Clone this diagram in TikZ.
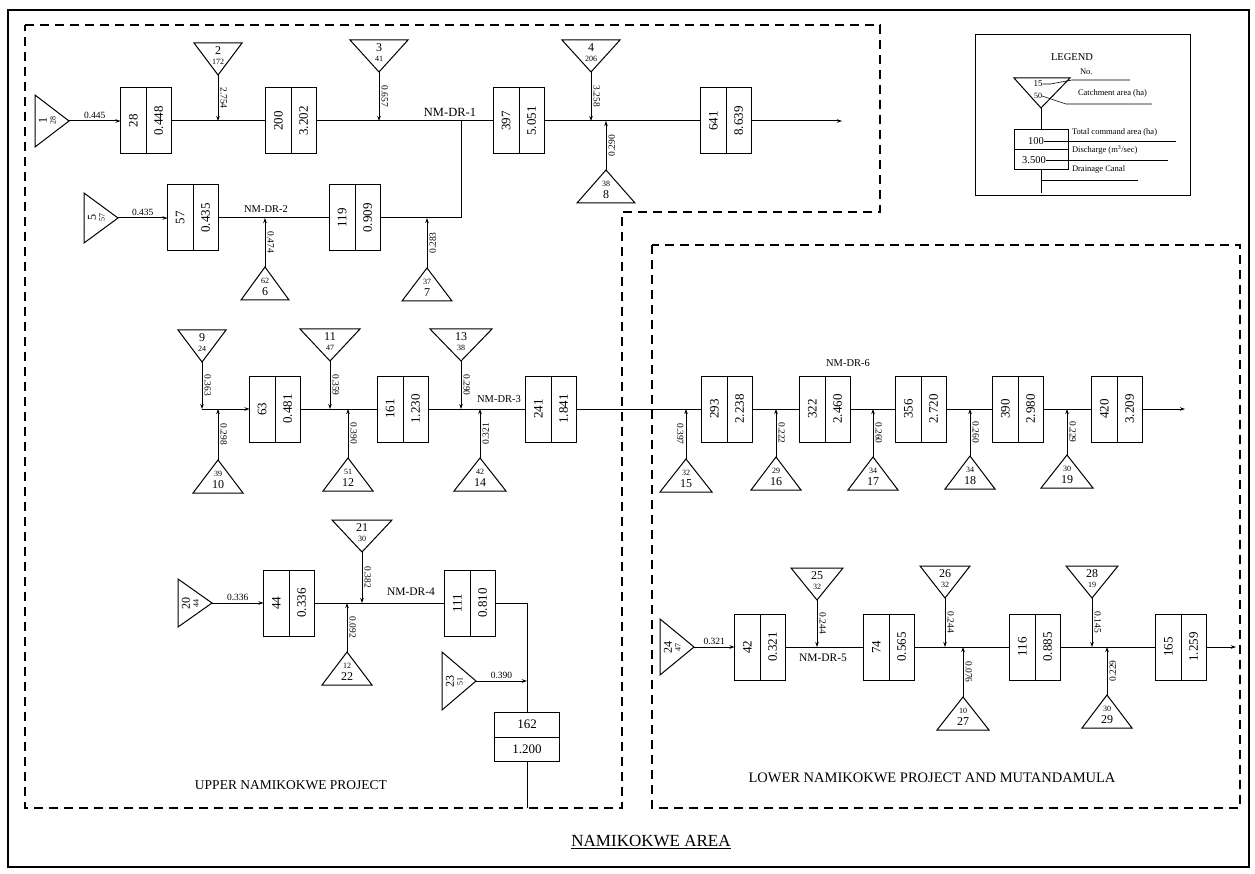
\documentclass[tikz,border=0pt]{standalone}
\usepackage{fontspec}
\setmainfont{Liberation Serif}
\usetikzlibrary{arrows.meta}
\newcommand{\TriD}[6]{%
  \draw[tri] (#2-#4,#3) -- (#2+#4,#3) -- (#2,#3+32) -- cycle;
  \node[tnum] at (#2,#3+8) {#5};
  \node[tarea] at (#2,#3+19) {#6};
  \coordinate (#1) at (#2,#3+32);}
\newcommand{\TriU}[6]{%
  \draw[tri] (#2,#3) -- (#2+#4,#3+33) -- (#2-#4,#3+33) -- cycle;
  \node[tarea] at (#2,#3+14) {#6};
  \node[tnum] at (#2,#3+25) {#5};
  \coordinate (#1) at (#2,#3);}
\newcommand{\TriR}[6]{%
  \draw[tri] (#2,#3-#4) -- (#2+34,#3) -- (#2,#3+#4) -- cycle;
  \node[tnum,rotate=90] at (#2+8,#3) {#5};
  \node[tarea,rotate=90] at (#2+18,#3) {#6};
  \coordinate (#1) at (#2+34,#3);}
\newcommand{\BoxV}[5]{%
  \node[boxn] (#1) at (#2,#3) {};
  \draw[ln] (#1.north) -- (#1.south);
  \node[bt] at (#2-12.75,#3) {#4};
  \node[bt] at (#2+12.75,#3) {#5};}
\begin{document}
\begin{tikzpicture}[x=1pt,y=-1pt,
  every node/.style={inner sep=0pt,outer sep=0pt},
  ln/.style={line width=1pt},
  tri/.style={line width=1pt,line join=miter},
  boxn/.style={draw,line width=1pt,minimum width=51pt,minimum height=66pt},
  bt/.style={rotate=90,font=\fontsize{13}{13}\selectfont},
  tnum/.style={font=\fontsize{12}{12}\selectfont},
  tarea/.style={font=\fontsize{8}{8}\selectfont},
  flow/.style={line width=1pt,-{Stealth[length=5pt,width=3.5pt]}},
  hlab/.style={midway,above=2pt,font=\fontsize{9.5}{9.5}\selectfont},
  vlab/.style={midway,rotate=-90,anchor=south,inner sep=2.5pt,font=\fontsize{9.5}{9.5}\selectfont},
  vlabr/.style={midway,rotate=90,anchor=north,inner sep=2.5pt,font=\fontsize{9.5}{9.5}\selectfont},
  vlabl/.style={midway,rotate=-90,anchor=north,inner sep=2.5pt,font=\fontsize{9.5}{9.5}\selectfont},
  dr/.style={font=\fontsize{10.5}{10.5}\selectfont},
  dsh/.style={line width=1.3pt,dash pattern=on 9pt off 6pt},
  legl/.style={anchor=west,font=\fontsize{8.5}{8.5}\selectfont},
  thinl/.style={line width=0.6pt}]
\fill[white] (0,0) rectangle (1255,874);
\useasboundingbox (0,0) rectangle (1255,874);
% frames
\draw[line width=1.3pt] (8,10) rectangle (1249,867);
\draw[dsh] (25,25) -- (880,25) -- (880,212) -- (622,212) -- (622,808) -- (25,808) -- cycle;
\draw[dsh] (652,245) rectangle (1240,808);
% ---------- row 1
\TriR{t1}{35}{121}{26}{1}{28}
\TriD{t2}{218}{43}{24}{2}{172}
\TriD{t3}{379}{40}{29}{3}{41}
\TriD{t4}{591}{40}{29}{4}{206}
\TriU{t8}{606}{170}{29}{8}{38}
\BoxV{b28}{146}{121}{28}{0.448}
\BoxV{b200}{291}{121}{200}{3.202}
\BoxV{b397}{519}{121}{397}{5.051}
\BoxV{b641}{726}{121}{641}{8.639}
\coordinate (j2) at (218,121);
\coordinate (j3) at (379,121);
\coordinate (j1) at (461,121);
\coordinate (j4) at (591,121);
\coordinate (j8) at (606,121);
\coordinate (o1) at (842,121);
\draw[flow] (t1) -- (b28.west) node[hlab]{0.445};
\draw[ln] (b28.east) -- (b200.west);
\draw[flow] (t2) -- (j2) node[vlab]{2.754};
\draw[ln] (b200.east) -- (b397.west);
\draw[flow] (t3) -- (j3) node[vlab]{0.657};
\draw[ln] (b397.east) -- (b641.west);
\draw[flow] (t4) -- (j4) node[vlab]{3.258};
\draw[flow] (t8) -- (j8) node[vlabr]{0.290};
\draw[flow] (b641.east) -- (o1);
\node[font=\fontsize{12.5}{12.5}\selectfont] (l1) at (450,112) {NM-DR-1};
% ---------- row 2
\TriR{t5}{84}{218}{25}{5}{57}
\TriU{t6}{265}{267}{24}{6}{62}
\TriU{t7}{427}{268}{25}{7}{37}
\BoxV{b57}{193}{218}{57}{0.435}
\BoxV{b119}{355}{218}{119}{0.909}
\coordinate (j6) at (265,218);
\coordinate (j7) at (427,218);
\coordinate (c2) at (461,218);
\draw[flow] (t5) -- (b57.west) node[hlab]{0.435};
\draw[ln] (b57.east) -- (b119.west);
\draw[flow] (t6) -- (j6) node[vlab]{0.474};
\draw[ln] (b119.east) -- (c2) -- (j1);
\draw[flow] (t7) -- (j7) node[vlabr]{0.283};
\node[dr] (l2) at (266,209) {NM-DR-2};
% ---------- row 3
\TriD{t9}{202}{330}{24}{9}{24}
\TriU{t10}{218}{460}{25}{10}{39}
\TriD{t11}{330}{329}{30}{11}{47}
\TriU{t12}{348}{458}{25}{12}{51}
\TriD{t13}{461}{329}{31}{13}{38}
\TriU{t14}{480}{458}{26}{14}{42}
\TriU{t15}{686}{459}{26}{15}{32}
\TriU{t16}{776}{457}{25}{16}{29}
\TriU{t17}{873}{457}{25}{17}{34}
\TriU{t18}{970}{456}{25}{18}{34}
\TriU{t19}{1067}{455}{26}{19}{30}
\BoxV{b63}{275}{409}{63}{0.481}
\BoxV{b161}{403}{409}{161}{1.230}
\BoxV{b241}{551}{409}{241}{1.841}
\BoxV{b293}{727}{409}{293}{2.238}
\BoxV{b322}{825}{409}{322}{2.460}
\BoxV{b356}{921}{409}{356}{2.720}
\BoxV{b390}{1018}{409}{390}{2.980}
\BoxV{b420}{1117}{409}{420}{3.209}
\coordinate (j9) at (202,409);
\coordinate (j10) at (218,409);
\coordinate (j11) at (330,409);
\coordinate (j12) at (348,409);
\coordinate (j13) at (461,409);
\coordinate (j14) at (480,409);
\coordinate (j15) at (686,409);
\coordinate (j16) at (776,409);
\coordinate (j17) at (873,409);
\coordinate (j18) at (970,409);
\coordinate (j19) at (1067,409);
\coordinate (o3) at (1185,409);
\draw[flow] (t9) -- (j9) node[vlab]{0.363};
\draw[flow] (j9) -- (b63.west);
\draw[flow] (t10) -- (j10) node[vlab]{0.298};
\draw[ln] (b63.east) -- (b161.west);
\draw[flow] (t11) -- (j11) node[vlab]{0.359};
\draw[flow] (t12) -- (j12) node[vlab]{0.390};
\draw[ln] (b161.east) -- (b241.west);
\draw[flow] (t13) -- (j13) node[vlab]{0.290};
\draw[flow] (t14) -- (j14) node[vlabr]{0.321};
\draw[ln] (b241.east) -- (b293.west);
\draw[flow] (t15) -- (j15) node[vlabl]{0.397};
\draw[ln] (b293.east) -- (b322.west);
\draw[flow] (t16) -- (j16) node[vlab]{0.222};
\draw[ln] (b322.east) -- (b356.west);
\draw[flow] (t17) -- (j17) node[vlab]{0.260};
\draw[ln] (b356.east) -- (b390.west);
\draw[flow] (t18) -- (j18) node[vlab]{0.260};
\draw[ln] (b390.east) -- (b420.west);
\draw[flow] (t19) -- (j19) node[vlab]{0.229};
\draw[flow] (b420.east) -- (o3);
\node[dr] (l3) at (499,399) {NM-DR-3};
\node[dr] (l6) at (848,363) {NM-DR-6};
% ---------- row 4
\TriR{t20}{178}{603}{24}{20}{44}
\TriD{t21}{362}{520}{30}{21}{30}
\TriU{t22}{347}{652}{25}{22}{12}
\TriR{t23}{442}{681}{29}{23}{51}
\BoxV{b44}{289}{603}{44}{0.336}
\BoxV{b111}{470}{603}{111}{0.810}
\node[draw,line width=1pt,minimum width=65pt,minimum height=49pt] (b162) at (527,737) {};
\draw[ln] (b162.west) -- (b162.east);
\node[bt,rotate=-90] at (527,724) {162};
\node[bt,rotate=-90] at (527,749) {1.200};
\coordinate (j21) at (362,603);
\coordinate (j22) at (347,603);
\coordinate (c4) at (527,603);
\coordinate (j23) at (527,681);
\coordinate (o4) at (527,808);
\draw[flow] (t20) -- (b44.west) node[hlab]{0.336};
\draw[ln] (b44.east) -- (b111.west);
\draw[flow] (t21) -- (j21) node[vlab]{0.382};
\draw[flow] (t22) -- (j22) node[vlab]{0.092};
\draw[ln] (b111.east) -- (c4) -- (b162.north);
\draw[flow] (t23) -- (j23) node[hlab]{0.390};
\draw[ln] (b162.south) -- (o4);
\node[font=\fontsize{11.5}{11.5}\selectfont] (l4) at (411,592) {NM-DR-4};
% ---------- row 5
\TriR{t24}{660}{647}{28}{24}{47}
\TriD{t25}{817}{568}{26}{25}{32}
\TriD{t26}{945}{566}{25}{26}{32}
\TriU{t27}{963}{697}{26}{27}{10}
\TriD{t28}{1092}{566}{26}{28}{19}
\TriU{t29}{1107}{695}{25}{29}{30}
\BoxV{b42}{760}{647}{42}{0.321}
\BoxV{b74}{889}{647}{74}{0.565}
\BoxV{b116}{1035}{647}{116}{0.885}
\BoxV{b165}{1181}{647}{165}{1.259}
\coordinate (j25) at (817,647);
\coordinate (j26) at (945,647);
\coordinate (j27) at (963,647);
\coordinate (j28) at (1092,647);
\coordinate (j29) at (1107,647);
\coordinate (o5) at (1236,647);
\draw[flow] (t24) -- (b42.west) node[hlab]{0.321};
\draw[ln] (b42.east) -- (b74.west);
\draw[flow] (t25) -- (j25) node[vlab]{0.244};
\draw[ln] (b74.east) -- (b116.west);
\draw[flow] (t26) -- (j26) node[vlab]{0.244};
\draw[flow] (t27) -- (j27) node[vlab]{0.076};
\draw[ln] (b116.east) -- (b165.west);
\draw[flow] (t28) -- (j28) node[vlab]{0.145};
\draw[flow] (t29) -- (j29) node[vlabr]{0.229};
\draw[flow] (b165.east) -- (o5);
\node[font=\fontsize{11.5}{11.5}\selectfont] (l5) at (823,658) {NM-DR-5};
% ---------- titles
\node[font=\fontsize{13.5}{13.5}\selectfont] (tu) at (291,785) {UPPER NAMIKOKWE PROJECT};
\node[font=\fontsize{14.5}{14.5}\selectfont] (tl) at (932,778) {LOWER NAMIKOKWE PROJECT AND MUTANDAMULA};
\node[font=\fontsize{17}{17}\selectfont] (ta) at (651,842) {\underline{NAMIKOKWE AREA}};
% ---------- legend
\draw[ln] (975,35) rectangle (1190,196);
\node[font=\fontsize{10.5}{10.5}\selectfont] (lg) at (1072,57) {LEGEND};
\draw[tri] (1014,78) -- (1070,78) -- (1041,108) -- cycle;
\coordinate (lta) at (1041,108);
\node[font=\fontsize{9}{9}\selectfont] (l15) at (1038,84) {15};
\node[font=\fontsize{8}{8}\selectfont] (l50) at (1038,96) {50};
\node[legl] (lno) at (1080,72) {No.};
\draw[thinl] (l15.east) -- ++(8,0) -- (1072,80) -- (1130,80);
\node[legl] (lca) at (1078,93) {Catchment area (ha)};
\draw[thinl] (l50.east) -- ++(6,2) -- (1066,104) -- (1152,104);
\node[draw,line width=1pt,minimum width=54pt,minimum height=40pt] (lbox) at (1041,150) {};
\draw[ln] (lbox.west) -- (lbox.east);
\node[font=\fontsize{10.5}{10.5}\selectfont] (l100) at (1036,141) {100};
\node[font=\fontsize{10.5}{10.5}\selectfont] (l35) at (1034,160) {3.500};
\draw[ln] (lta) -- (lbox.north);
\coordinate (lend) at (1041,193);
\draw[ln] (lbox.south) -- (lend);
\node[legl] (ltc) at (1072,132) {Total command area (ha)};
\draw[thinl] (l100.east) -- (1176,141);
\node[legl] (ldis) at (1072,150) {Discharge (m\textsuperscript{3}/sec)};
\draw[thinl] (l35.east) -- (1168,160);
\node[legl] (ldc) at (1072,169) {Drainage Canal};
\draw[thinl] (1041,180) -- (1138,180);
\end{tikzpicture}
\end{document}
